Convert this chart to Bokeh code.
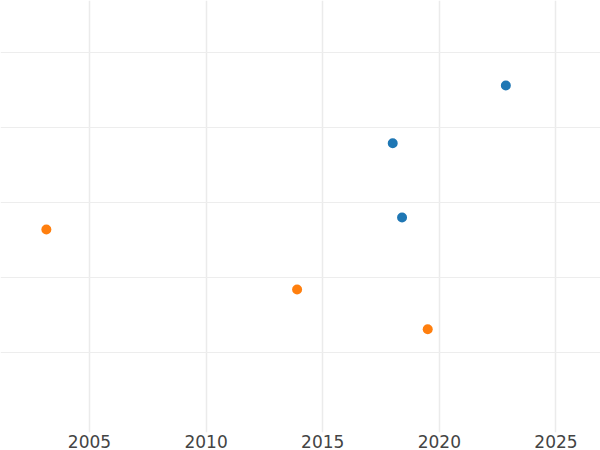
from bokeh.plotting import figure
from bokeh.models import ColumnDataSource, FixedTicker, Range1d
from bokeh.embed import file_html
from bokeh.resources import INLINE

# Data
blue_year = [2022.85, 2018.0, 2018.4]
blue_value = [45.6, 37.9, 28.0]
orange_year = [2003.15, 2013.9, 2019.5]
orange_value = [26.4, 18.4, 13.1]

x_ticks = [2005, 2010, 2015, 2020, 2025]
y_ticks = [10, 20, 30, 40, 50]

p = figure(
    width=600, height=450,
    output_backend="svg", toolbar_location=None,
    x_range=Range1d(2001.184, 2026.908),
    y_range=Range1d(-0.667, 56.933),
    min_border_left=0, min_border_right=0, min_border_top=0, min_border_bottom=0,
    outline_line_color=None, background_fill_color="white",
)

p.scatter(x="x", y="y", source=ColumnDataSource(dict(x=blue_year, y=blue_value)),
          size=10, color="#1f77b4", line_color=None)
p.scatter(x="x", y="y", source=ColumnDataSource(dict(x=orange_year, y=orange_value)),
          size=10, color="#ff7f0e", line_color=None)

p.yaxis.visible = False
p.xaxis.ticker = FixedTicker(ticks=x_ticks)
p.xaxis.axis_line_color = None
p.xaxis.major_tick_line_color = None
p.xaxis.minor_tick_line_color = None
p.xaxis.major_tick_out = 0
p.xaxis.major_label_standoff = 2
p.xaxis.major_label_text_font = "DejaVu Sans"
p.xaxis.major_label_text_font_size = "17px"
p.xaxis.major_label_text_color = "#444444"

p.xgrid.ticker = FixedTicker(ticks=x_ticks)
p.xgrid.grid_line_color = "#ebebeb"
p.xgrid.grid_line_width = 1.5
p.ygrid.ticker = FixedTicker(ticks=y_ticks)
p.ygrid.grid_line_color = "#ededed"
p.ygrid.grid_line_width = 1

open("out.html", "w").write(file_html(p, INLINE))
